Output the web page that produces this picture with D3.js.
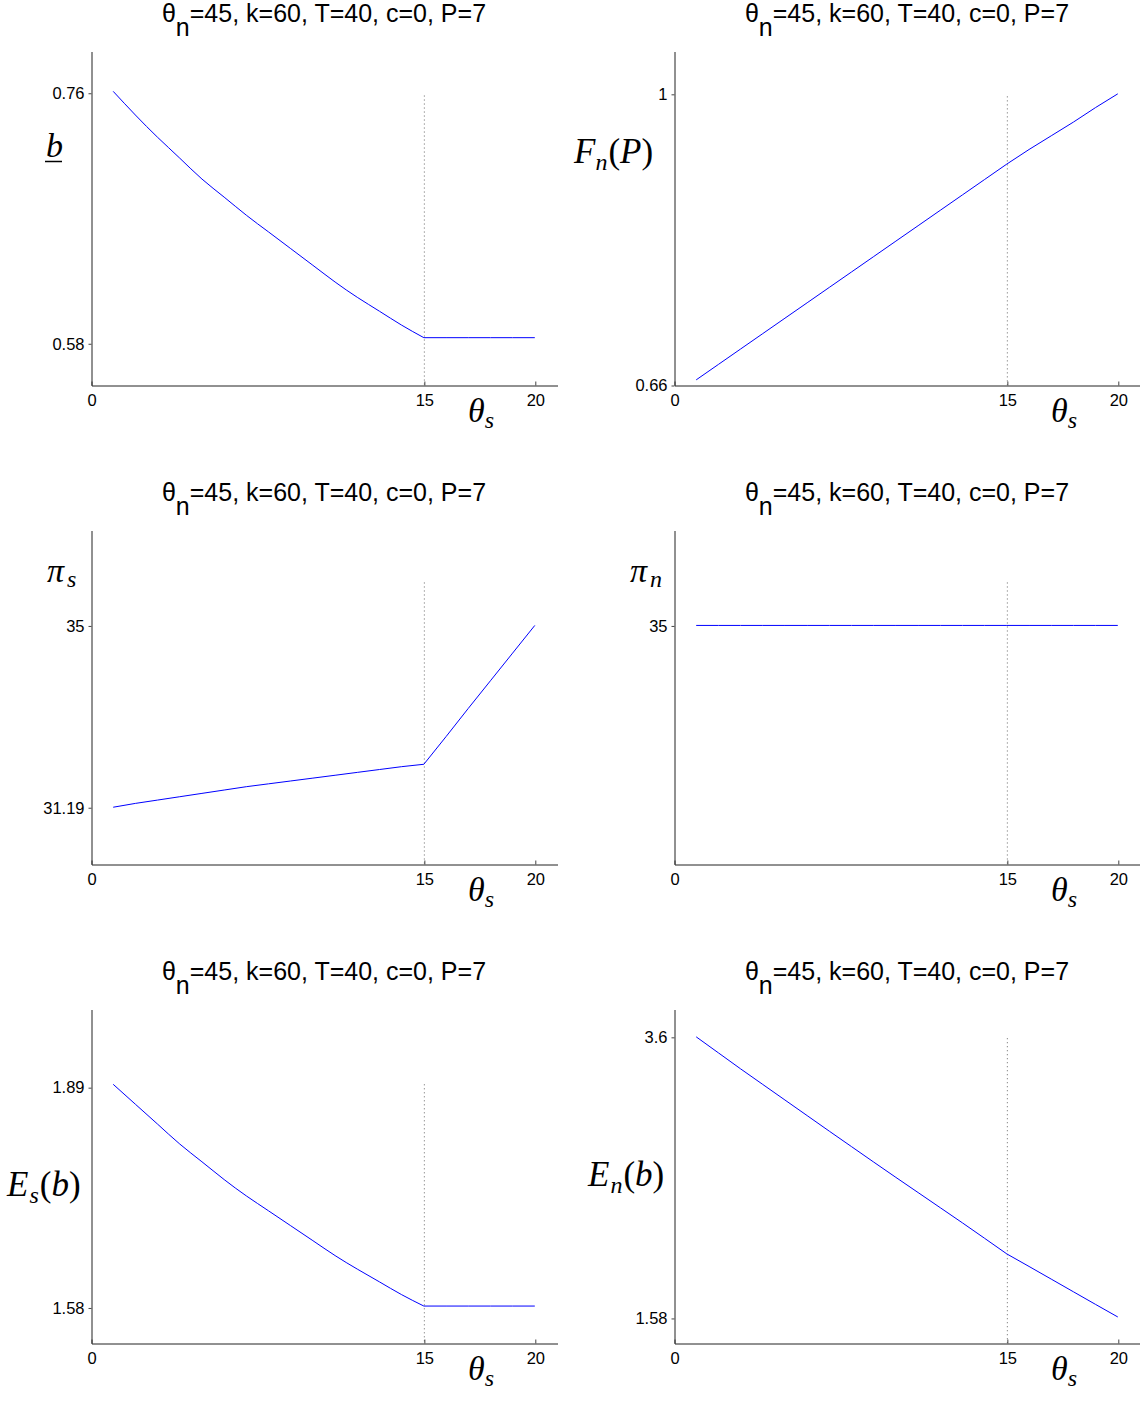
<!DOCTYPE html>
<html>
<head>
<meta charset="utf-8">
<script src="https://cdn.jsdelivr.net/npm/d3@7/dist/d3.min.js"></script>
<style>
  body { margin: 0; background: #fff; }
  svg { display: block; }
  .tick text { font-family: "Liberation Sans", Arial, sans-serif; font-size: 16.5px; fill: #000; }
  .math { font-family: "Liberation Serif", "Times New Roman", serif; font-style: italic; fill: #000; }
</style>
</head>
<body>
<div id="chart"></div>
<script>
// x values (theta_s)
var thetaS = [1, 2, 3, 4, 5, 6, 7, 8, 9, 10, 11, 12, 13, 14, 15, 16, 17, 18, 19, 20];

// series
var bLow = [0.761, 0.744, 0.728, 0.713, 0.698, 0.685, 0.672, 0.660, 0.648, 0.636, 0.624, 0.613, 0.603, 0.593, 0.584,
            0.584, 0.584, 0.584, 0.584, 0.584];
var fnP = [0.666, 0.684, 0.702, 0.720, 0.738, 0.756, 0.774, 0.792, 0.810, 0.828, 0.846, 0.864, 0.882, 0.900, 0.918,
           0.935, 0.951, 0.967, 0.984, 1.000];
var piS = [31.19, 31.27, 31.34, 31.41, 31.48, 31.55, 31.62, 31.68, 31.74, 31.80, 31.86, 31.92, 31.98, 32.04, 32.09,
           32.67, 33.26, 33.84, 34.42, 35.00];
var piN = [35, 35, 35, 35, 35, 35, 35, 35, 35, 35, 35, 35, 35, 35, 35, 35, 35, 35, 35, 35];
var esB = [1.894, 1.866, 1.838, 1.810, 1.785, 1.760, 1.737, 1.716, 1.695, 1.674, 1.653, 1.634, 1.616, 1.598, 1.582,
           1.582, 1.582, 1.582, 1.582, 1.582];
var enB = [3.600, 3.485, 3.370, 3.258, 3.146, 3.034, 2.922, 2.811, 2.700, 2.590, 2.481, 2.372, 2.263, 2.152, 2.040,
           1.950, 1.859, 1.768, 1.677, 1.587];

// axis limits and ticks
var xDomain = [0, 21];
var xTicks = [0, 15, 20];
var yDomains = [[0.55, 0.79], [0.66, 1.05], [30, 37], [30, 37], [1.53, 2.0], [1.4, 3.8]];
var yTicks = [[0.58, 0.76], [0.66, 1], [31.19, 35], [35], [1.58, 1.89], [1.58, 3.6]];
var yTickLabels = [["0.58", "0.76"], ["0.66", "1"], ["31.19", "35"], ["35"], ["1.58", "1.89"], ["1.58", "3.6"]];

// the dotted marker at theta_s = 15 and how high it reaches
var markX = 15;
var markTop = [0.758, 0.997, 35.9, 35.9, 1.894, 3.59];

var seriesList = [bLow, fnP, piS, piN, esB, enB];

var svgWidth = 1140, svgHeight = 1405;
var colX = [91, 674];
var rowTop = [51, 530, 1009];
var plotW = 466, plotH = 334;

var svg = d3.select("#chart").append("svg")
    .attr("width", svgWidth)
    .attr("height", svgHeight);

// y label drawers (math style text)
function yLabel(g, i) {
    var t;
    if (i === 0) {
        t = g.append("text").attr("class", "math").attr("x", -45).attr("y", 106).attr("font-size", 34);
        t.append("tspan").text("b");
        g.append("line").attr("x1", -46).attr("x2", -29).attr("y1", 110.5).attr("y2", 110.5)
            .attr("stroke", "#000").attr("stroke-width", 1.5);
    } else if (i === 1) {
        t = g.append("text").attr("class", "math").attr("x", -100).attr("y", 112).attr("font-size", 35);
        t.append("tspan").text("F");
        t.append("tspan").attr("dy", 7).attr("font-size", 24).text("n");
        t.append("tspan").attr("dx", 1).attr("dy", -7).attr("font-style", "normal").text("(");
        t.append("tspan").text("P");
        t.append("tspan").attr("font-style", "normal").text(")");
    } else if (i === 2 || i === 3) {
        t = g.append("text").attr("class", "math").attr("x", -44).attr("y", 52).attr("font-size", 34);
        t.append("tspan").text("π");
        t.append("tspan").attr("dx", 3).attr("dy", 5).attr("font-size", 24).text(i === 2 ? "s" : "n");
    } else {
        var top = i === 4 ? 187 : 177;
        var left = i === 4 ? -84 : -86;
        t = g.append("text").attr("class", "math").attr("x", left).attr("y", top).attr("font-size", 35);
        t.append("tspan").text("E");
        t.append("tspan").attr("dx", 1).attr("dy", 7).attr("font-size", 24).text(i === 4 ? "s" : "n");
        t.append("tspan").attr("dx", 1).attr("dy", -7).attr("font-style", "normal").text("(");
        t.append("tspan").text("b");
        t.append("tspan").attr("font-style", "normal").text(")");
    }
}

seriesList.forEach(function(values, i) {
    var col = i % 2, row = Math.floor(i / 2);
    var g = svg.append("g")
        .attr("transform", `translate(${colX[col]}, ${rowTop[row]})`);

    var xScale = d3.scaleLinear().domain(xDomain).range([0, plotW]);
    var yScale = d3.scaleLinear().domain(yDomains[i]).range([plotH, 0]);

    // title
    var title = g.append("text")
        .attr("x", plotW / 2)
        .attr("y", -29)
        .attr("text-anchor", "middle")
        .attr("font-family", "'Liberation Sans', Arial, sans-serif")
        .attr("font-size", 25);
    title.append("tspan").text("θ");
    title.append("tspan").attr("dy", 14).text("n");
    title.append("tspan").attr("dy", -14).text("=45, k=60, T=40, c=0, P=7");

    // dotted vertical line
    g.append("line")
        .attr("x1", xScale(markX) + 0.5)
        .attr("x2", xScale(markX) + 0.5)
        .attr("y1", yScale(markTop[i]))
        .attr("y2", plotH)
        .attr("stroke", "#666")
        .attr("stroke-width", 1)
        .attr("stroke-dasharray", "1,3");

    // data line, smooth up to the kink at theta_s = 15, straight after it
    var pts = values.map(function(v, j) { return [thetaS[j], v]; });
    var before = pts.filter(function(p) { return p[0] <= markX; });
    var after = pts.filter(function(p) { return p[0] >= markX; });

    var smooth = d3.line()
        .x(function(d) { return xScale(d[0]); })
        .y(function(d) { return yScale(d[1]); })
        .curve(d3.curveNatural);
    var straight = d3.line()
        .x(function(d) { return xScale(d[0]); })
        .y(function(d) { return yScale(d[1]); });

    g.append("path")
        .attr("d", smooth(before) + straight(after).replace(/^M/, "L"))
        .attr("fill", "none")
        .attr("stroke", "#0000ff")
        .attr("stroke-width", 1);

    // axes
    var xAxis = d3.axisBottom(xScale)
        .tickValues(xTicks)
        .tickFormat(d3.format("d"))
        .tickSizeInner(-4)
        .tickSizeOuter(0)
        .tickPadding(9);

    var yAxis = d3.axisLeft(yScale)
        .tickValues(yTicks[i])
        .tickFormat(function(d, k) { return yTickLabels[i][k]; })
        .tickSizeInner(3)
        .tickSizeOuter(0)
        .tickPadding(4);

    var xg = g.append("g")
        .attr("transform", `translate(0.5, ${plotH + 0.5})`)
        .call(xAxis);
    var yg = g.append("g")
        .attr("transform", "translate(0.5, 0.5)")
        .call(yAxis);

    [xg, yg].forEach(function(a) {
        a.select(".domain").attr("stroke", "#222");
        a.selectAll(".tick line").attr("stroke", "#444");
    });

    yLabel(g, i);

    // x label
    var xl = g.append("text").attr("class", "math")
        .attr("x", 377).attr("y", plotH + 37).attr("font-size", 34);
    xl.append("tspan").text("θ");
    xl.append("tspan").attr("dy", 6).attr("font-size", 24).text("s");
});
</script>
</body>
</html>
